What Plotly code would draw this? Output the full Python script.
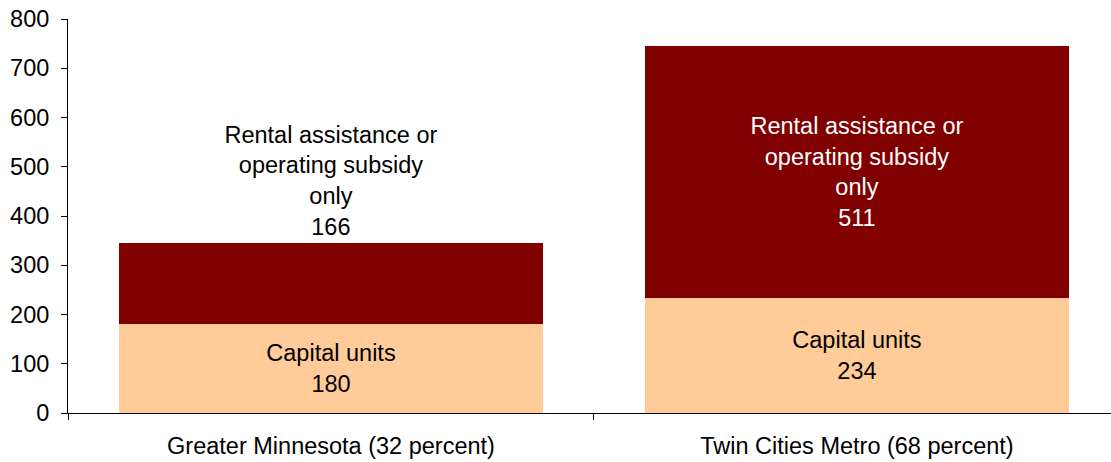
import plotly.graph_objects as go

# Housing units by region, split by funding type
regions = ["Greater Minnesota (32 percent)", "Twin Cities Metro (68 percent)"]
capital_units = [180, 234]
rental_only = [166, 511]

capital_label = "Capital units"
rental_label = "Rental assistance or<br>operating subsidy<br>only"

font_family = "Liberation Sans, Arial, sans-serif"
fsize = 23.5

fig = go.Figure()
fig.add_trace(go.Bar(
    x=regions,
    y=capital_units,
    name="Capital units",
    marker=dict(color="#FFCC99", line=dict(width=0)),
    text=[f"{capital_label}<br>{v}" for v in capital_units],
    textposition="inside",
    insidetextanchor="middle",
    textangle=0,
    textfont=dict(color="black", size=fsize, family=font_family),
    width=0.805,
))
fig.add_trace(go.Bar(
    x=regions,
    y=rental_only,
    name="Rental assistance or operating subsidy only",
    marker=dict(color="#800000", line=dict(width=0)),
    text=[f"{rental_label}<br>{v}" for v in rental_only],
    textposition=["outside", "inside"],
    insidetextanchor="middle",
    textangle=0,
    insidetextfont=dict(color="white", size=fsize, family=font_family),
    outsidetextfont=dict(color="black", size=fsize, family=font_family),
    width=0.805,
    cliponaxis=False,
))

fig.update_layout(
    barmode="stack",
    width=1111,
    height=462,
    margin=dict(l=68, r=0, t=19, b=49),
    paper_bgcolor="white",
    plot_bgcolor="white",
    showlegend=False,
    font=dict(family=font_family, size=fsize, color="black"),
    uniformtext=dict(mode=False),
)
fig.update_xaxes(
    range=[-0.5, 1.483],
    showline=True,
    linecolor="black",
    linewidth=1,
    ticks="outside",
    tickson="boundaries",
    ticklen=6,
    tickcolor="black",
    showgrid=False,
    tickfont=dict(size=fsize),
    ticklabelstandoff=12,
)
fig.update_yaxes(
    range=[0, 800],
    dtick=100,
    showline=True,
    linecolor="black",
    linewidth=1,
    ticks="outside",
    ticklen=6,
    tickcolor="black",
    showgrid=False,
    zeroline=False,
    tickfont=dict(size=fsize),
    ticklabelstandoff=7,
)

fig.write_html("out.html")
